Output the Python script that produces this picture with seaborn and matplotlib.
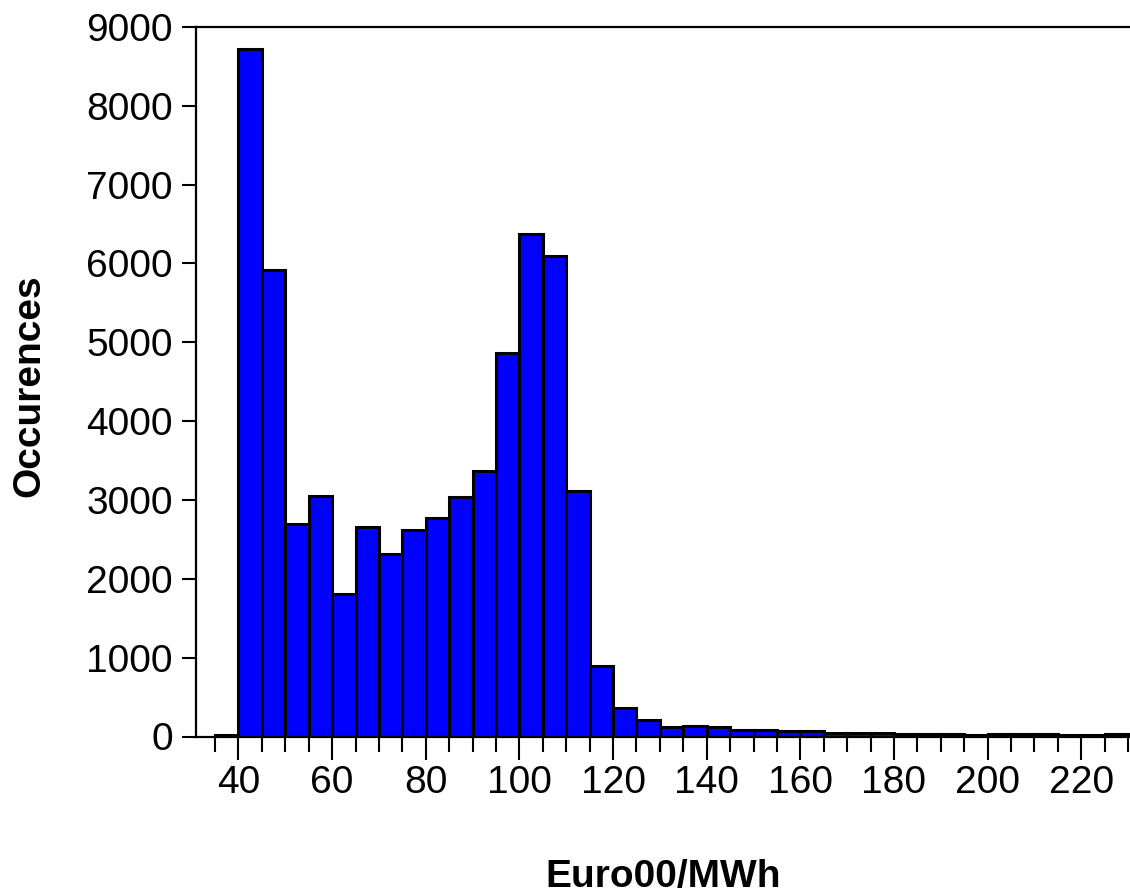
import numpy as np
import pandas as pd
import matplotlib
matplotlib.use("Agg")
import matplotlib.pyplot as plt
from matplotlib.ticker import MultipleLocator, FixedLocator
import seaborn as sns

# ---- data ----
bin_edges = list(range(35, 235, 5))  # 35 ... 230
counts = [25, 8720, 5915, 2700, 3050, 1810, 2655, 2320, 2625, 2770,
          3035, 3370, 4865, 6370, 6100, 3110, 895, 365, 212, 118,
          135, 115, 85, 85, 68, 68, 50, 50, 50, 33,
          33, 33, 15, 30, 30, 30, 15, 15, 30]
x_label = "Euro00/MWh"
y_label = "Occurences"
y_ticks = list(range(0, 10000, 1000))
x_major = list(range(40, 240, 20))

centers = [(a + b) / 2 for a, b in zip(bin_edges[:-1], bin_edges[1:])]
df = pd.DataFrame({"price": centers, "count": counts})

sns.set_style("ticks")
plt.rcParams["font.family"] = ["Liberation Sans", "DejaVu Sans"]
plt.rcParams["text.color"] = "black"
plt.rcParams["axes.labelcolor"] = "black"
plt.rcParams["xtick.color"] = "black"
plt.rcParams["ytick.color"] = "black"
plt.rcParams["xtick.labelcolor"] = "black"
plt.rcParams["ytick.labelcolor"] = "black"

W, H = 1130, 896
fig = plt.figure(figsize=(W / 100, H / 100), dpi=100)
left, right, top, bottom = 196.3, 1130, 27, 736.5
ax = fig.add_axes([left / W, 1 - bottom / H, (right - left) / W, (bottom - top) / H])

sns.histplot(data=df, x="price", weights="count", bins=bin_edges, ax=ax,
             color="#0000FF", alpha=1.0, edgecolor="black", linewidth=2.2,
             element="bars")

ax.set_xlim(31, 230.4)
ax.set_ylim(0, 9000)

ax.yaxis.set_major_locator(FixedLocator(y_ticks))
ax.set_yticklabels([str(v) for v in y_ticks])
ax.xaxis.set_major_locator(FixedLocator(x_major))
ax.xaxis.set_minor_locator(MultipleLocator(5))
ax.set_xticklabels([str(v) for v in x_major])

ax.tick_params(axis="y", which="major", direction="out", length=10, width=1.5,
               labelsize=28, pad=7, color="black", labelcolor="black")
ax.tick_params(axis="x", which="major", direction="out", length=16.5, width=1.5,
               labelsize=28, pad=4, color="black", labelcolor="black")
ax.tick_params(axis="x", which="minor", direction="out", length=10.8, width=1.5,
               color="black")

for s in ["left", "top", "bottom"]:
    ax.spines[s].set_visible(True)
    ax.spines[s].set_linewidth(1.6)
    ax.spines[s].set_color("black")
ax.spines["right"].set_visible(False)

ax.set_xlabel(x_label, fontsize=28, fontweight="bold", va="center", color="black")
ax.xaxis.set_label_coords(0.5, (bottom - 877) / (bottom - top))
ax.set_ylabel(y_label, fontsize=28, fontweight="bold", va="center", color="black")
ax.yaxis.set_label_coords((29 - left) / (right - left), (bottom - 386) / (bottom - top))

fig.savefig("out.png", dpi=100)
